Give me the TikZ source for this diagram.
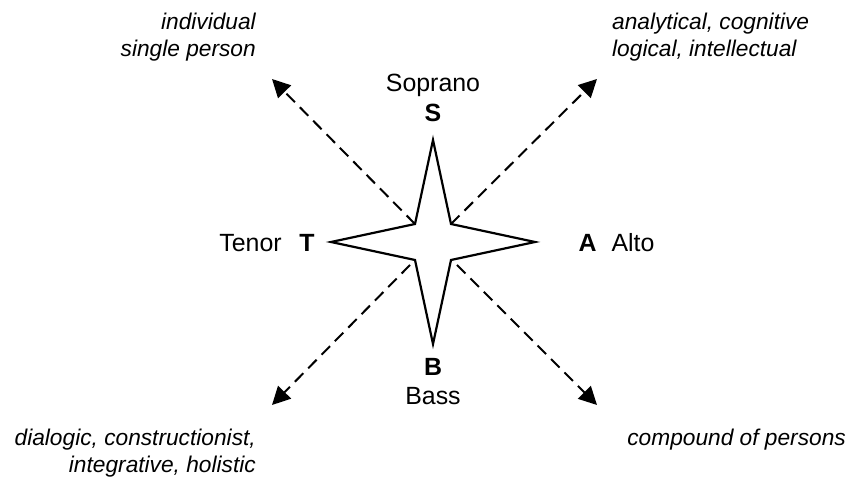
\documentclass[tikz,border=0pt]{standalone}
\usepackage{fontspec}
\setmainfont{Liberation Sans}
\usetikzlibrary{arrows.meta}
\begin{document}
\begin{tikzpicture}[x=1bp,y=1bp,
  lbl/.style={inner sep=0pt, font=\fontsize{25}{30}\selectfont},
  bold/.style={inner sep=0pt, font=\fontsize{25}{30}\selectfont\bfseries},
  note/.style={inner sep=0pt, font=\fontsize{22.8}{26.5}\selectfont\itshape},
  ray/.style={line width=2bp, dash pattern=on 12bp off 7bp,
    -{Triangle[length=18bp,width=18bp]}},
  starline/.style={line width=2.2bp, line join=miter, fill=white}]
\useasboundingbox (0,0) rectangle (852,486);
% star
\coordinate (st) at (433,346);
\coordinate (sb) at (433,142);
\coordinate (sl) at (331,244);
\coordinate (sr) at (535,244);
\coordinate (ine) at (451,262);
\coordinate (ise) at (451,226);
\coordinate (isw) at (415,226);
\coordinate (inw) at (415,262);
\draw[starline] (st) -- (ine) -- (sr) -- (ise) -- (sb) -- (isw) -- (sl) -- (inw) -- cycle;
% ray ends
\coordinate (tnw) at (272,407);
\coordinate (tne) at (597,407);
\coordinate (tsw) at (272,81);
\coordinate (tse) at (597,81);
\coordinate (bsw) at (410,221);
\coordinate (bse) at (457,221);
\draw[ray] (inw) -- (tnw);
\draw[ray] (ine) -- (tne);
\draw[ray] (bsw) -- (tsw);
\draw[ray] (bse) -- (tse);
% voice labels
\node[lbl, anchor=base] (sop) at (433,394) {Soprano};
\node[bold, anchor=base] (S) at (433,364) {S};
\node[bold, anchor=base] (B) at (433,110) {B};
\node[lbl, anchor=base] (bass) at (433,81) {Bass};
\node[lbl, anchor=base] (tenor) at (250.5,234) {Tenor};
\node[bold, anchor=base] (T) at (307,234) {T};
\node[bold, anchor=base] (A) at (587.5,234) {A};
\node[lbl, anchor=base] (alto) at (633,234) {Alto};
% notes
\node[note, anchor=north east, align=right] (nw) at (256,473) {individual\\single person};
\node[note, anchor=north west, align=left] (ne) at (612,473) {analytical, cognitive\\logical, intellectual};
\node[note, anchor=north east, align=right] (sw) at (256,57) {dialogic, constructionist,\\integrative, holistic};
\node[note, anchor=north east, align=right] (se) at (846,57) {compound of persons};
\end{tikzpicture}
\end{document}
